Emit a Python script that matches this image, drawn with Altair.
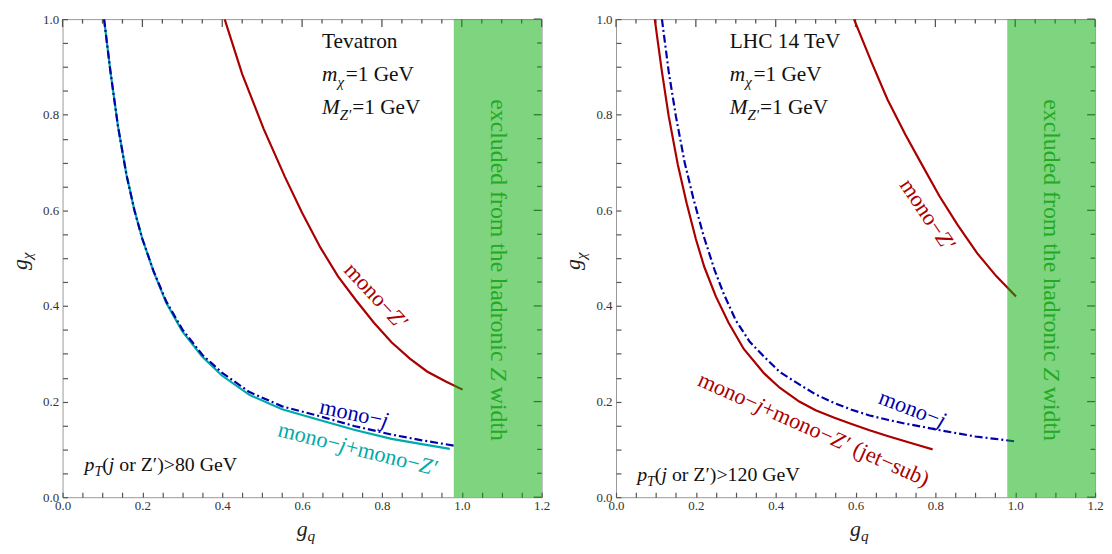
import altair as alt
import pandas as pd

# ---------------- data ----------------
x_tick_labels = [0.0, 0.2, 0.4, 0.6, 0.8, 1.0, 1.2]
y_tick_labels = [0.0, 0.2, 0.4, 0.6, 0.8, 1.0]
x_frame_ticks = [0.0, 0.05, 0.1, 0.15, 0.2, 0.25, 0.3, 0.35, 0.4, 0.45, 0.5, 0.55, 0.6,
                 0.65, 0.7, 0.75, 0.8, 0.85, 0.9, 0.95, 1.0, 1.05, 1.1, 1.15, 1.2]
y_frame_ticks = [0.0, 0.05, 0.1, 0.15, 0.2, 0.25, 0.3, 0.35, 0.4, 0.45, 0.5,
                 0.55, 0.6, 0.65, 0.7, 0.75, 0.8, 0.85, 0.9, 0.95, 1.0]
band_gq = [0.98, 1.2]      # excluded from hadronic Z width
band_gchi = [0.0, 1.0]

# Tevatron panel
tev_monoj_gq = [0.104, 0.12, 0.139, 0.16, 0.18, 0.2, 0.228, 0.26, 0.3, 0.35, 0.4, 0.468, 0.55, 0.646, 0.73, 0.824, 0.9, 0.987]
tev_monoj_gchi = [1.0, 0.89, 0.775, 0.675, 0.6, 0.54, 0.473, 0.409, 0.351, 0.298, 0.26, 0.22, 0.19, 0.169, 0.149, 0.131, 0.119, 0.107]
tev_comb_gq = [0.104, 0.12, 0.139, 0.16, 0.18, 0.2, 0.228, 0.26, 0.3, 0.35, 0.4, 0.468, 0.55, 0.646, 0.73, 0.824, 0.9, 0.97]
tev_comb_gchi = [1.0, 0.89, 0.775, 0.675, 0.6, 0.54, 0.472, 0.406, 0.347, 0.294, 0.254, 0.214, 0.184, 0.161, 0.141, 0.122, 0.111, 0.101]
tev_monoz_gq = [0.406, 0.45, 0.504, 0.557, 0.6, 0.646, 0.69, 0.735, 0.78, 0.824, 0.87, 0.913, 0.96, 1.002]
tev_monoz_gchi = [1.0, 0.885, 0.77, 0.67, 0.595, 0.522, 0.462, 0.412, 0.365, 0.324, 0.29, 0.263, 0.242, 0.225]

# LHC 14 TeV panel
lhc_comb_gq = [0.097, 0.115, 0.132, 0.155, 0.177, 0.2, 0.221, 0.25, 0.282, 0.32, 0.371, 0.41, 0.459, 0.5, 0.547, 0.59, 0.635, 0.68, 0.724, 0.76, 0.793]
lhc_comb_gchi = [1.0, 0.89, 0.797, 0.695, 0.615, 0.54, 0.482, 0.42, 0.365, 0.31, 0.259, 0.229, 0.2, 0.182, 0.166, 0.153, 0.14, 0.128, 0.117, 0.108, 0.1]
lhc_monoj_gq = [0.115, 0.132, 0.15, 0.172, 0.194, 0.22, 0.247, 0.27, 0.3, 0.335, 0.371, 0.41, 0.459, 0.5, 0.547, 0.59, 0.635, 0.68, 0.724, 0.77, 0.812, 0.86, 0.9, 0.95, 0.997]
lhc_monoj_gchi = [1.0, 0.89, 0.797, 0.7, 0.624, 0.545, 0.475, 0.425, 0.37, 0.325, 0.294, 0.262, 0.236, 0.215, 0.197, 0.183, 0.171, 0.162, 0.154, 0.147, 0.14, 0.133, 0.127, 0.122, 0.117]
lhc_monoz_gq = [0.596, 0.64, 0.68, 0.725, 0.768, 0.81, 0.856, 0.905, 0.953, 1.002]
lhc_monoz_gchi = [1.0, 0.91, 0.832, 0.758, 0.693, 0.63, 0.569, 0.51, 0.462, 0.42]

# ---------------- style ----------------
FONT = "Liberation Serif"
RED = "#aa0000"
BLUE = "#0000aa"
CYAN = "#00aaaa"
GREEN_BAND = "#00aa00"
GREEN_TEXT = "#22aa22"
TICK_COLOR = "#555555"
W, H = 483, 482
X_MAX, Y_MAX = 1.2, 1.0
TICK_PX = 5
TICK_MAJOR_PX, TICK_MINOR_PX = 8, 4.5

MAJOR_EXPR = "abs(datum.value * 5 - round(datum.value * 5)) < 0.001 ? format(datum.value, '.1f') : ''"

xs = alt.Scale(domain=[0, X_MAX], nice=False, zero=False)
ys = alt.Scale(domain=[0, Y_MAX], nice=False, zero=False)
# inward ticks: the axis is pulled inside the frame by TICK_PX and its ticks reach back to the frame
xax = alt.Axis(values=x_frame_ticks, labelExpr=MAJOR_EXPR, labelPadding=2, labelFlush=False,
               labelOverlap=False, ticks=True, tickSize=TICK_PX, offset=-TICK_PX)
yax = alt.Axis(values=y_frame_ticks, labelExpr=MAJOR_EXPR, labelPadding=4, labelFlush=False,
               labelOverlap=False, ticks=True, tickSize=TICK_PX, offset=-TICK_PX)

NORMAL_W = {'m': .778, 'o': .5, 'n': .5, '−': .564, '+': .564, ' ': .25, '(': .333, ')': .333,
            'j': .278, 'e': .444, 't': .278, 's': .389, 'u': .5, 'b': .5, 'r': .333, 'Z': .611,
            '′': .275, '>': .564, '=': .564, 'G': .722, 'V': .722, 'L': .611, 'H': .722,
            'C': .667, 'T': .611, 'v': .5, 'a': .444, 'x': .5, 'c': .444, 'l': .278, 'd': .5,
            'f': .333, 'h': .5, 'i': .278, 'w': .722}
ITALIC_W = {'j': .278, 'Z': .556, 'm': .722, 'χ': .55, 'M': .833, 'p': .5, 'T': .556,
            'g': .5, 'q': .5, '′': .275}


def twidth(s, italic, size):
    tab = ITALIC_W if italic else NORMAL_W
    return sum(tab.get(ch, 0.5) for ch in s) * size


def rich(x, y, pieces, size, color, angle=0, center=False, px=False, vshift=0.0):
    """pieces: list of (text, italic, subscript); pieces are laid out one after another."""
    layers = []
    offs, cur = [], 0.0
    for t, it, sub in pieces:
        s = size * 0.7 if sub else size
        lead = len(t) - len(t.lstrip(" "))
        offs.append(cur + lead * 0.25 * s)
        cur += twidth(t, it, s)
    shift = -cur / 2 if center else 0.0
    for (t, it, sub), o in zip(pieces, offs):
        s = size * 0.7 if sub else size
        df = pd.DataFrame({"gq": [x], "gchi": [y], "t": [t.strip(" ")]})
        mk = alt.Chart(df).mark_text(
            align="left", baseline="alphabetic", dx=o + shift,
            dy=(size * 0.25 if sub else 0.0) + vshift * size,
            angle=angle % 360, font=FONT, fontSize=s,
            fontStyle="italic" if it else "normal", color=color)
        if px:
            enc = dict(x=alt.value(x), y=alt.value(y))
        else:
            enc = dict(x=alt.X("gq:Q", scale=xs, axis=xax), y=alt.Y("gchi:Q", scale=ys, axis=yax))
        layers.append(mk.encode(text="t:N", **enc))
    return layers


def curve(gq, gchi, color, dash=None):
    df = pd.DataFrame({"gq": gq, "gchi": gchi})
    kw = dict(color=color, strokeWidth=2.2, clip=True)
    if dash:
        kw["strokeDash"] = dash
    return alt.Chart(df).mark_line(**kw).encode(
        x=alt.X("gq:Q", scale=xs, axis=xax), y=alt.Y("gchi:Q", scale=ys, axis=yax))


def is_major(v):
    return abs(v * 5 - round(v * 5)) < 1e-6


def frame_ticks():
    # inward ticks on the top and right edges; lengths converted from pixels to data units
    xrows = []
    for v in x_frame_ticks:
        ln = (TICK_MAJOR_PX if is_major(v) else TICK_MINOR_PX) / H * Y_MAX
        xrows.append({"tv": v, "ta": Y_MAX, "tb": Y_MAX - ln})
    yrows = []
    for v in y_frame_ticks:
        ln = (TICK_MAJOR_PX if is_major(v) else TICK_MINOR_PX) / W * X_MAX
        yrows.append({"tv": v, "ta": X_MAX, "tb": X_MAX - ln})
    a = alt.Chart(pd.DataFrame(xrows)).mark_rule(color=TICK_COLOR, strokeWidth=1.3, opacity=1).encode(
        x=alt.X("tv:Q", scale=xs, axis=xax),
        y=alt.Y("ta:Q", scale=ys, axis=yax),
        y2=alt.Y2("tb:Q"))
    b = alt.Chart(pd.DataFrame(yrows)).mark_rule(color=TICK_COLOR, strokeWidth=1.3, opacity=1).encode(
        y=alt.Y("tv:Q", scale=ys, axis=yax),
        x=alt.X("ta:Q", scale=xs, axis=xax),
        x2=alt.X2("tb:Q"))
    return [a, b]


def band():
    df = pd.DataFrame({"x0": [band_gq[0]], "x1": [band_gq[1]], "y0": [band_gchi[0]], "y1": [band_gchi[1]]})
    rect = alt.Chart(df).mark_rect(color=GREEN_BAND, opacity=0.5).encode(
        x=alt.X("x0:Q", scale=xs, axis=xax), x2="x1",
        y=alt.Y("y0:Q", scale=ys, axis=yax), y2="y1")
    txt = rich(1.09, 0.475, [("excluded from the hadronic ", False, False), ("Z", True, False),
                             (" width", False, False)], 24, GREEN_TEXT, angle=90, center=True, vshift=0.3)
    return [rect] + txt


def axis_titles():
    t = rich(236, 521, [("g", True, False), ("q", True, True)], 22, "#222222", px=True)
    t += rich(-36, 253, [("g", True, False), ("χ", True, True)], 22, "#222222", angle=270, px=True)
    return t


def info(x, lines):
    out = []
    for y, pcs in zip([0.953, 0.884, 0.815], lines):
        out += rich(x, y, pcs, 21.5, "#111111", vshift=0.32)
    return out


mass_lines = [
    [("m", True, False), ("χ", True, True), ("=1 GeV", False, False)],
    [("M", True, False), ("Z′", True, True), ("=1 GeV", False, False)],
]
LBL = 22.5

# ---------------- left panel: Tevatron ----------------
left_layers = frame_ticks() + [
    curve(tev_monoz_gq, tev_monoz_gchi, RED),
    curve(tev_comb_gq, tev_comb_gchi, CYAN),
    curve(tev_monoj_gq, tev_monoj_gchi, BLUE, dash=[8, 3, 2, 3]),
] + band()
left_layers += rich(0.785, 0.42, [("mono−", False, False), ("Z′", True, False)], LBL, RED, angle=47, center=True, vshift=0.3)
left_layers += rich(0.73, 0.174, [("mono−", False, False), ("j", True, False)], LBL, BLUE, angle=12, center=True, vshift=0.3)
left_layers += rich(0.74, 0.1, [("mono−", False, False), ("j", True, False), ("+mono−", False, False),
                                ("Z′", True, False)], LBL, CYAN, angle=14, center=True, vshift=0.3)
left_layers += info(0.65, [[("Tevatron", False, False)]] + mass_lines)
left_layers += rich(0.055, 0.068, [("p", True, False), ("T", True, True), ("(", False, False), ("j", True, False),
                                   (" or Z′)>80 GeV", False, False)], 20, "#111111", vshift=0.3)
left_layers += axis_titles()
left = alt.layer(*left_layers).properties(width=W, height=H)

# ---------------- right panel: LHC 14 TeV ----------------
right_layers = frame_ticks() + [
    curve(lhc_monoz_gq, lhc_monoz_gchi, RED),
    curve(lhc_comb_gq, lhc_comb_gchi, RED),
    curve(lhc_monoj_gq, lhc_monoj_gchi, BLUE, dash=[8, 3, 2, 3]),
] + band()
right_layers += rich(0.78, 0.59, [("mono−", False, False), ("Z′", True, False)], LBL, RED, angle=56, center=True, vshift=0.3)
right_layers += rich(0.742, 0.184, [("mono−", False, False), ("j", True, False)], LBL, BLUE, angle=21, center=True, vshift=0.3)
right_layers += rich(0.495, 0.141, [("mono−", False, False), ("j", True, False), ("+mono−", False, False),
                                    ("Z′", True, False), (" (jet−sub)", False, False)], LBL, RED, angle=24,
                     center=True, vshift=0.3)
right_layers += info(0.285, [[("LHC 14 TeV", False, False)]] + mass_lines)
right_layers += rich(0.053, 0.047, [("p", True, False), ("T", True, True), ("(", False, False), ("j", True, False),
                                    (" or Z′)>120 GeV", False, False)], 20, "#111111", vshift=0.3)
right_layers += axis_titles()
right = alt.layer(*right_layers).properties(width=W, height=H)

chart = alt.hconcat(left, right, spacing=75, bounds="flush").properties(
    padding={"left": 0, "top": 2, "right": 0, "bottom": 0},
).configure_view(
    stroke="#999999", strokeWidth=1
).configure_axis(
    domain=False, grid=False, title=None, tickColor=TICK_COLOR, tickWidth=1.2,
    labelFont=FONT, labelFontSize=13, labelColor="#333333",
)

chart.save("out.html", embed_options={"renderer": "svg", "actions": False})
